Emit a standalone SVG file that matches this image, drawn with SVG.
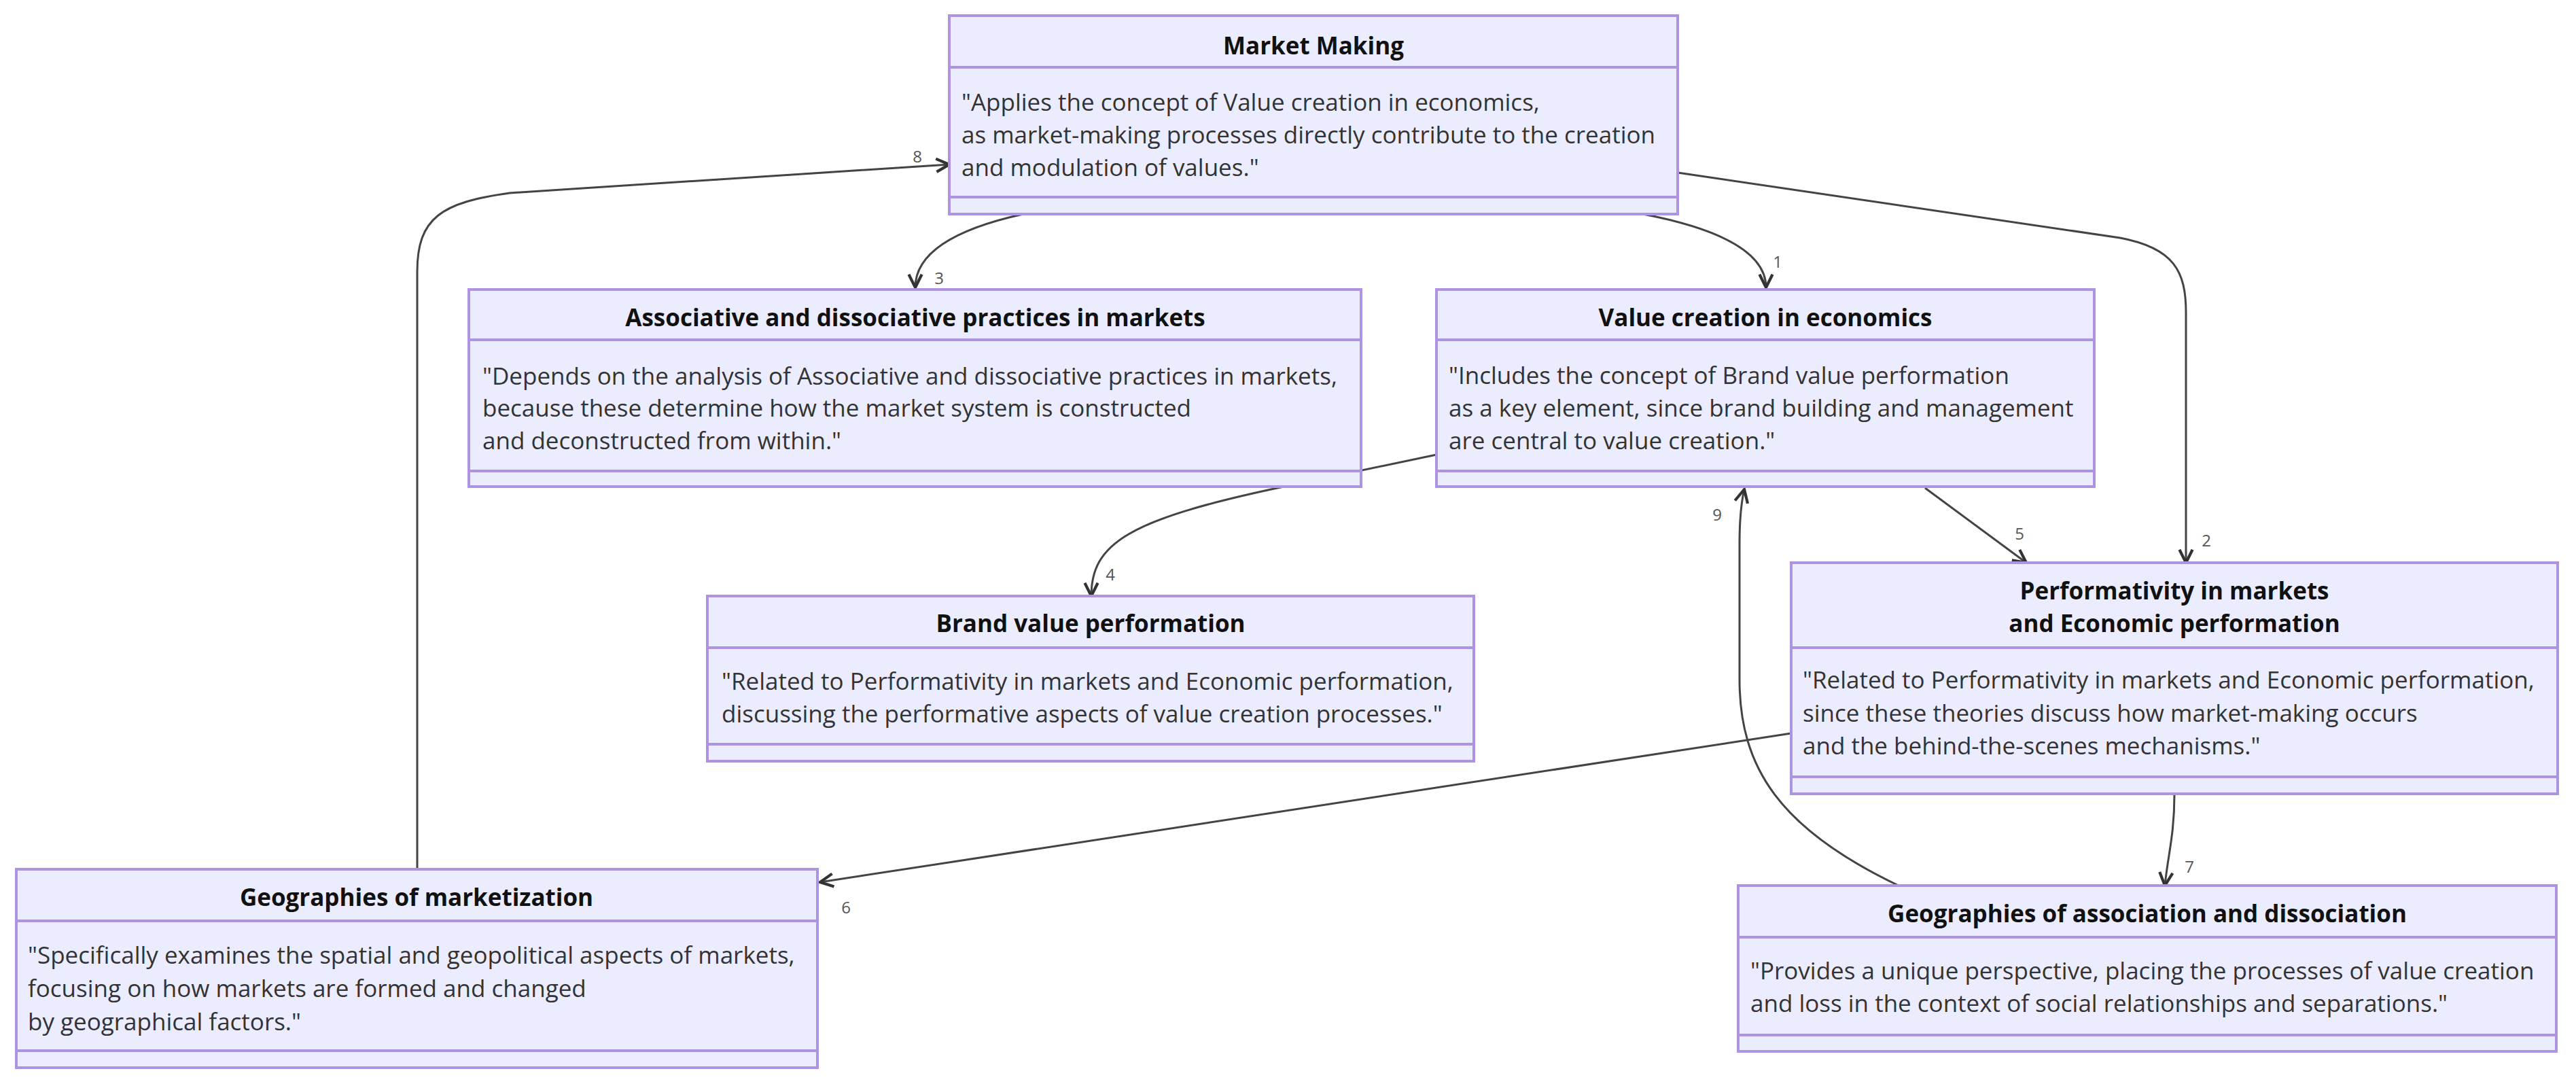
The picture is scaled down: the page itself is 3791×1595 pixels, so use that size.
<svg xmlns="http://www.w3.org/2000/svg" width="3791" height="1595" viewBox="0 0 3791 1595">
<style>
.box{fill:#ECECFF;stroke:#AE93E3;stroke-width:4}
.div{stroke:#AE93E3;stroke-width:4}
.t{font-family:"Open Sans","Noto Sans",sans-serif;font-size:35px;font-weight:bold;fill:#111;text-anchor:middle}
.b{font-family:"Open Sans","Noto Sans",sans-serif;font-size:35px;fill:#333}
.e{fill:none;stroke:#444;stroke-width:3;marker-end:url(#arr)}
.l{font-family:"Open Sans","Noto Sans",sans-serif;font-size:24px;fill:#555;text-anchor:middle}
</style>
<defs>
<marker id="arr" viewBox="0 0 20 20" refX="18" refY="10" markerWidth="24" markerHeight="24" markerUnits="userSpaceOnUse" orient="auto">
<path d="M2,2 L18,10 L2,18" fill="none" stroke="#333" stroke-width="3.5"/>
</marker>
</defs>
<rect width="3791" height="1595" fill="#fff"/>
<g id="connectors">
<path class="e" d="M2418,315 Q2599,350 2599,423"/>
<path class="e" d="M2469,254 L3120,350 C3200,365 3217,400 3217,460 L3217,828"/>
<path class="e" d="M1506,315 Q1347,350 1347,423"/>
<path class="e" d="M2114,669 L1880,718 C1660,765 1606,800 1606,877"/>
<path class="e" d="M2833,718 L2982,828"/>
<path class="e" d="M2636,1079 L1207,1298"/>
<path class="e" d="M3200,1168 C3200,1230 3190,1260 3186,1303"/>
<path class="e" d="M614,1279 L614,400 C614,320 650,298 750,284 L1397,242"/>
<path class="e" d="M2794,1303 C2620,1220 2560,1130 2560,1000 L2560,800 Q2560,750 2567,720"/>
<text class="l" x="2616" y="394">1</text>
<text class="l" x="3247" y="804">2</text>
<text class="l" x="1382" y="418">3</text>
<text class="l" x="1634" y="854">4</text>
<text class="l" x="2972" y="794">5</text>
<text class="l" x="1245" y="1344">6</text>
<text class="l" x="3222" y="1284">7</text>
<text class="l" x="1350" y="239">8</text>
<text class="l" x="2527" y="766">9</text>
</g>
<g id="market-making">
<rect class="box" x="1397" y="23" width="1072" height="292"/>
<line class="div" x1="1397" y1="99" x2="2469" y2="99"/>
<line class="div" x1="1397" y1="290" x2="2469" y2="290"/>
<text class="t" x="1933" y="80">Market Making</text>
<text class="b" x="1415" y="163">"Applies the concept of Value creation in economics,</text>
<text class="b" x="1415" y="211">as market-making processes directly contribute to the creation</text>
<text class="b" x="1415" y="259">and modulation of values."</text>
</g>
<g id="associative">
<rect class="box" x="690" y="426" width="1313" height="290"/>
<line class="div" x1="690" y1="500" x2="2003" y2="500"/>
<line class="div" x1="690" y1="693" x2="2003" y2="693"/>
<text class="t" x="1347" y="480">Associative and dissociative practices in markets</text>
<text class="b" x="710" y="566">"Depends on the analysis of Associative and dissociative practices in markets,</text>
<text class="b" x="710" y="613">because these determine how the market system is constructed</text>
<text class="b" x="710" y="661">and deconstructed from within."</text>
</g>
<g id="value-creation">
<rect class="box" x="2114" y="426" width="968" height="290"/>
<line class="div" x1="2114" y1="500" x2="3082" y2="500"/>
<line class="div" x1="2114" y1="693" x2="3082" y2="693"/>
<text class="t" x="2598" y="480">Value creation in economics</text>
<text class="b" x="2132" y="565">"Includes the concept of Brand value performation</text>
<text class="b" x="2132" y="613">as a key element, since brand building and management</text>
<text class="b" x="2132" y="661">are central to value creation."</text>
</g>
<g id="brand-value">
<rect class="box" x="1041" y="877" width="1128" height="243"/>
<line class="div" x1="1041" y1="953" x2="2169" y2="953"/>
<line class="div" x1="1041" y1="1095" x2="2169" y2="1095"/>
<text class="t" x="1605" y="930">Brand value performation</text>
<text class="b" x="1062" y="1015">"Related to Performativity in markets and Economic performation,</text>
<text class="b" x="1062" y="1063">discussing the performative aspects of value creation processes."</text>
</g>
<g id="performativity">
<rect class="box" x="2636" y="828" width="1128" height="340"/>
<line class="div" x1="2636" y1="953" x2="3764" y2="953"/>
<line class="div" x1="2636" y1="1143" x2="3764" y2="1143"/>
<text class="t" x="3200" y="882">Performativity in markets</text>
<text class="t" x="3200" y="930">and Economic performation</text>
<text class="b" x="2653" y="1013">"Related to Performativity in markets and Economic performation,</text>
<text class="b" x="2653" y="1062">since these theories discuss how market-making occurs</text>
<text class="b" x="2653" y="1110">and the behind-the-scenes mechanisms."</text>
</g>
<g id="geo-marketization">
<rect class="box" x="24" y="1279" width="1179" height="292"/>
<line class="div" x1="24" y1="1355" x2="1203" y2="1355"/>
<line class="div" x1="24" y1="1546" x2="1203" y2="1546"/>
<text class="t" x="613" y="1333">Geographies of marketization</text>
<text class="b" x="41" y="1418">"Specifically examines the spatial and geopolitical aspects of markets,</text>
<text class="b" x="41" y="1467">focusing on how markets are formed and changed</text>
<text class="b" x="41" y="1516">by geographical factors."</text>
</g>
<g id="geo-association">
<rect class="box" x="2558" y="1303" width="1204" height="244"/>
<line class="div" x1="2558" y1="1379" x2="3762" y2="1379"/>
<line class="div" x1="2558" y1="1523" x2="3762" y2="1523"/>
<text class="t" x="3160" y="1357">Geographies of association and dissociation</text>
<text class="b" x="2576" y="1441">"Provides a unique perspective, placing the processes of value creation</text>
<text class="b" x="2576" y="1489">and loss in the context of social relationships and separations."</text>
</g>
</svg>
